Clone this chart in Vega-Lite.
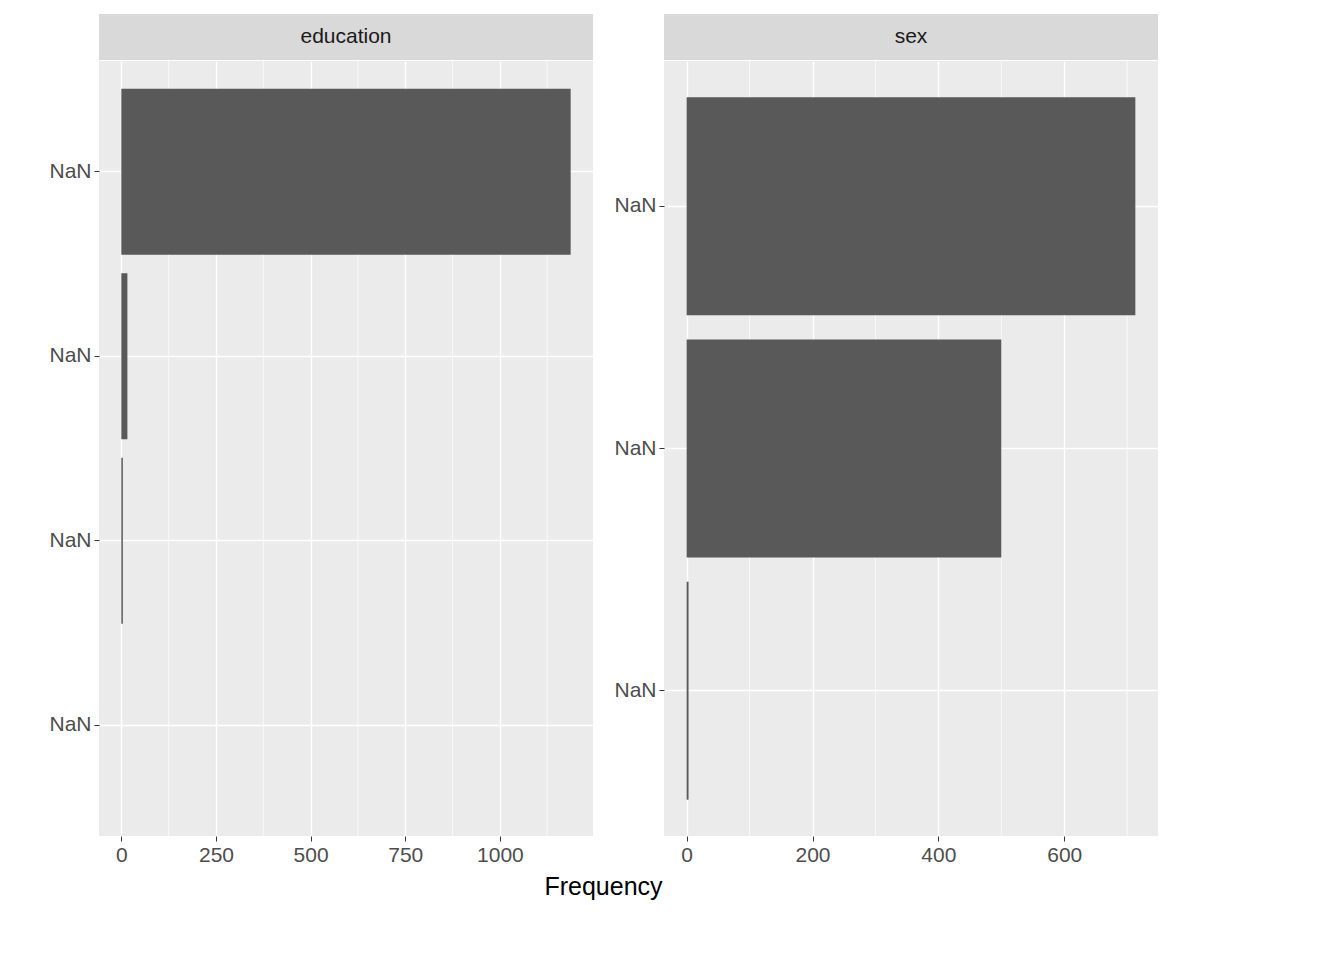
{
"$schema":"https://vega.github.io/schema/vega-lite/v6.json",
"padding":{"left":48,"top":14,"right":10,"bottom":10},
"background":"white",
"config":{"font":"Liberation Sans","view":{"stroke":null},"concat":{"spacing":0},
"axis":{"labelColor":"#4d4d4d","labelFontSize":21,"tickColor":"#333333","tickSize":5,"domain":false,"gridColor":"white","gridWidth":1.4,"labelPadding":3,"labelFont":"Liberation Sans","format":"d"}},
"title":{"text":"Frequency","orient":"bottom","anchor":"middle","fontSize":25,"fontWeight":"normal","color":"black","offset":10,"font":"Liberation Sans"},
"spacing":20,
"hconcat":[
{"spacing":0,"vconcat":[
{"width":494,"height":46,"view":{"fill":"#d9d9d9","stroke":null},"data":{"values":[{"t":"education"}]},"mark":{"type":"text","fontSize":21,"color":"#1a1a1a"},"encoding":{"text":{"field":"t"}}},
{"width":494,"height":775,"view":{"fill":"#ebebeb","stroke":null},
"layer":[
{"data":{"values":[{"m":125},{"m":375},{"m":625},{"m":875},{"m":1125}]},"mark":{"type":"rule","color":"white","strokeWidth":0.7},"encoding":{"x":{"field":"m","type":"quantitative","scale":{"domain":[-59,1246],"nice":false,"zero":false}}}},
{"data":{"values":[{"c":"Abitur","n":1187},{"c":"Other","n":16},{"c":"Secondary","n":4},{"c":"Lower secondary","n":0}]},
"mark":{"type":"bar","color":"#595959"},
"encoding":{"y":{"field":"c","type":"nominal","sort":["Abitur","Other","Secondary","Lower secondary"],"title":null,"scale":{"paddingInner":0.1,"paddingOuter":0.15},"axis":{"grid":true}},
"x":{"field":"n","type":"quantitative","title":null,"scale":{"domain":[-59,1246],"nice":false,"zero":false},"axis":{"values":[0,250,500,750,1000],"grid":true}}}}
]}
]},
{"spacing":0,"vconcat":[
{"width":494,"height":46,"view":{"fill":"#d9d9d9","stroke":null},"data":{"values":[{"t":"sex"}]},"mark":{"type":"text","fontSize":21,"color":"#1a1a1a"},"encoding":{"text":{"field":"t"}}},
{"width":494,"height":775,"view":{"fill":"#ebebeb","stroke":null},
"layer":[
{"data":{"values":[{"m":100},{"m":300},{"m":500},{"m":700}]},"mark":{"type":"rule","color":"white","strokeWidth":0.7},"encoding":{"x":{"field":"m","type":"quantitative","scale":{"domain":[-36,749],"nice":false,"zero":false}}}},
{"data":{"values":[{"c":"Female","n":713},{"c":"Male","n":500},{"c":"NA","n":3}]},
"mark":{"type":"bar","color":"#595959"},
"encoding":{"y":{"field":"c","type":"nominal","sort":["Female","Male","NA"],"title":null,"scale":{"paddingInner":0.1,"paddingOuter":0.15},"axis":{"grid":true}},
"x":{"field":"n","type":"quantitative","title":null,"scale":{"domain":[-36,749],"nice":false,"zero":false},"axis":{"values":[0,200,400,600],"grid":true}}}}
]}
]}
]}
